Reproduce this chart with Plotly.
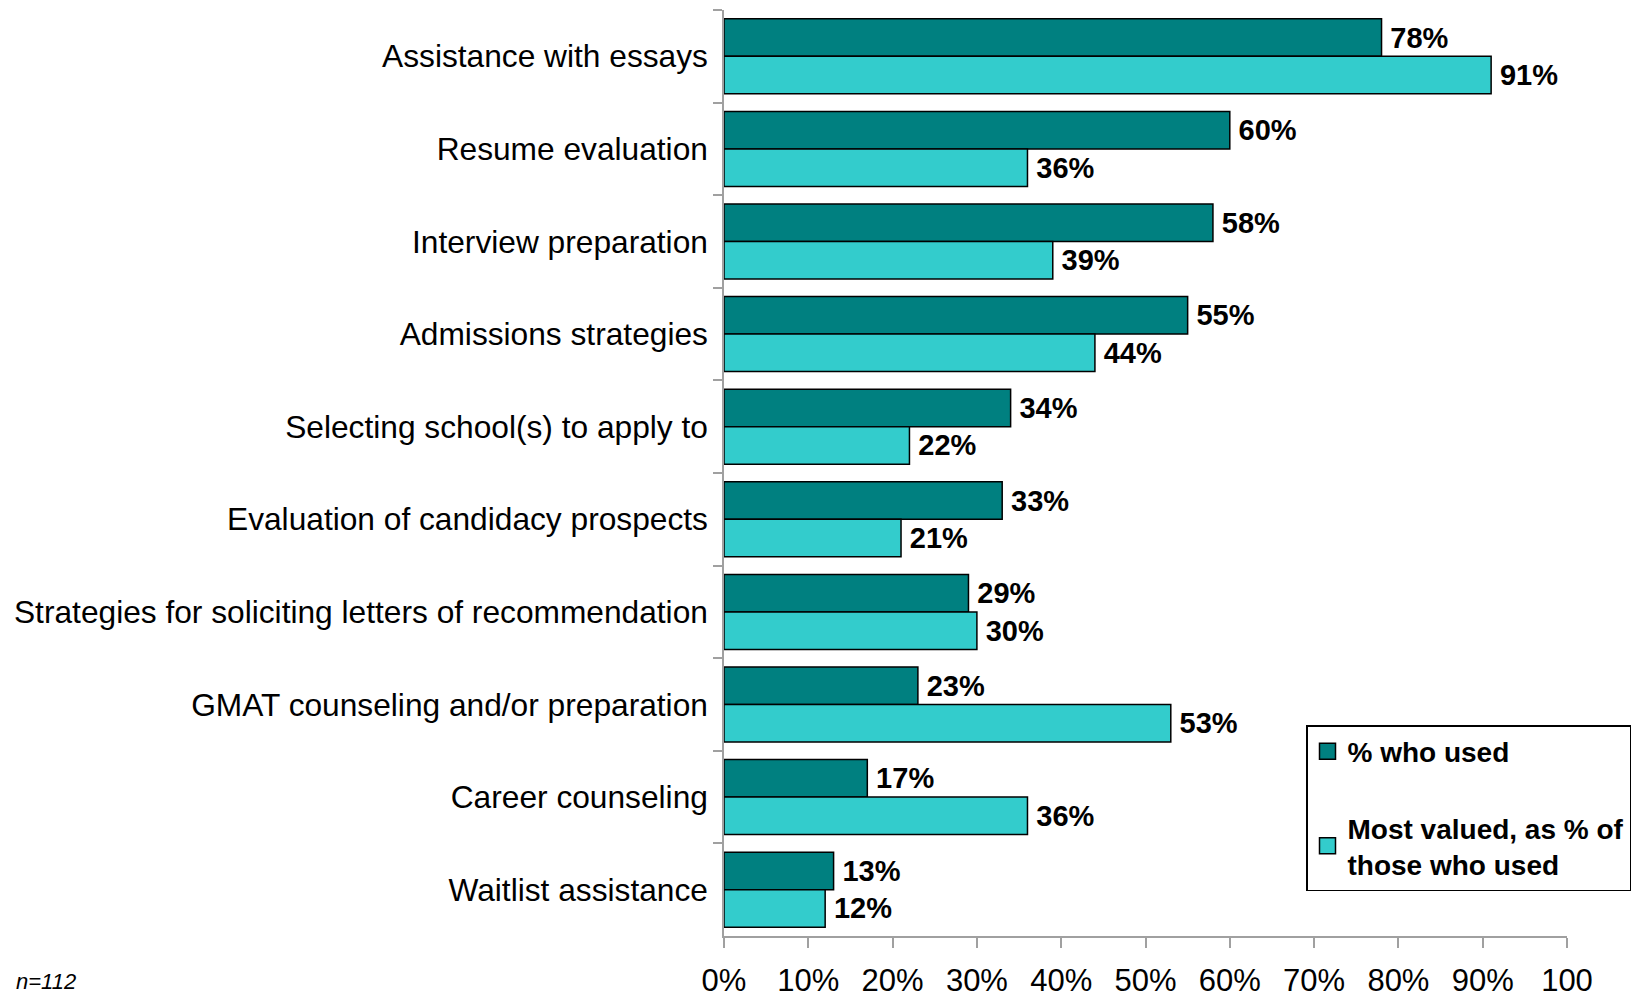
import plotly.graph_objects as go

# Services offered by admissions consultants
services = [
    "Assistance with essays",
    "Resume evaluation",
    "Interview preparation",
    "Admissions strategies",
    "Selecting school(s) to apply to",
    "Evaluation of candidacy prospects",
    "Strategies for soliciting letters of recommendation",
    "GMAT counseling and/or preparation",
    "Career counseling",
    "Waitlist assistance",
]
pct_used = [78, 60, 58, 55, 34, 33, 29, 23, 17, 13]
pct_most_valued = [91, 36, 39, 44, 22, 21, 30, 53, 36, 12]

series_names = ["% who used", "Most valued, as % of<br>those who used"]
x_ticks = [0, 10, 20, 30, 40, 50, 60, 70, 80, 90, 100]
x_tick_labels = ["0%", "10%", "20%", "30%", "40%", "50%", "60%", "70%", "80%", "90%", "100"]

DARK = "#008080"
LIGHT = "#33CCCC"
AXIS_GRAY = "#A0A0A0"
FONT = "Liberation Sans, Arial, sans-serif"

W, H = 1642, 997
M_L, M_R, M_T, M_B = 724, 75, 10, 61
PLOT_W = W - M_L - M_R
PLOT_H = H - M_T - M_B

fig = go.Figure()

for vals, color in ((pct_used, DARK), (pct_most_valued, LIGHT)):
    fig.add_trace(go.Bar(
        y=services,
        x=vals,
        orientation="h",
        marker=dict(color=color, line=dict(color="#000000", width=1.5)),
        text=[f"\u2009{v}%" for v in vals],
        textposition="outside",
        textfont=dict(family=FONT, size=29, color="#000000", weight="bold"),
        constraintext="none",
        cliponaxis=False,
        showlegend=False,
        hoverinfo="skip",
    ))

# Legend entries with larger square swatches
for i, (name, color) in enumerate(zip(series_names, (DARK, LIGHT))):
    fig.add_trace(go.Scatter(
        x=[None], y=[None],
        mode="markers",
        name=name,
        legendgroup=f"g{i}",
        marker=dict(symbol="square", size=17, color=color,
                    line=dict(color="#000000", width=1.5)),
    ))

fig.update_layout(
    width=W,
    height=H,
    margin=dict(l=M_L, r=M_R, t=M_T, b=M_B, autoexpand=False),
    paper_bgcolor="white",
    plot_bgcolor="white",
    barmode="group",
    bargap=0.19,
    bargroupgap=0,
    font=dict(family=FONT, color="#000000"),
    showlegend=True,
    legend=dict(
        x=(1306 - M_L) / PLOT_W, y=(M_T + PLOT_H - 725) / PLOT_H,
        xanchor="left", yanchor="top",
        bgcolor="white",
        bordercolor="#000000",
        borderwidth=1.5,
        font=dict(family=FONT, size=28, color="#000000", weight="bold"),
        tracegroupgap=37,
        traceorder="grouped",
        itemwidth=30,
    ),
    xaxis=dict(
        range=[0, 100],
        tickvals=x_ticks,
        ticktext=x_tick_labels,
        showgrid=False,
        zeroline=False,
        showline=True,
        linecolor=AXIS_GRAY,
        linewidth=1.5,
        ticks="outside",
        ticklen=10,
        tickwidth=1.5,
        tickcolor=AXIS_GRAY,
        tickfont=dict(family=FONT, size=31, color="#000000"),
        ticklabelstandoff=6,
        automargin=False,
    ),
    yaxis=dict(
        categoryorder="array",
        categoryarray=services,
        autorange="reversed",
        showgrid=False,
        zeroline=False,
        showline=True,
        linecolor=AXIS_GRAY,
        linewidth=1.5,
        ticks="outside",
        tickson="boundaries",
        ticklen=9,
        tickwidth=1.5,
        tickcolor=AXIS_GRAY,
        tickfont=dict(family=FONT, size=31.7, color="#000000"),
        ticklabelstandoff=8,
        automargin=False,
    ),
)

fig.add_annotation(
    text="<i>n=112</i>",
    xref="paper", yref="paper",
    x=(14 - M_L) / PLOT_W, y=(M_T + PLOT_H - 967) / PLOT_H,
    xanchor="left", yanchor="top",
    showarrow=False,
    font=dict(family=FONT, size=22, color="#000000"),
)

fig.write_html("out.html")
